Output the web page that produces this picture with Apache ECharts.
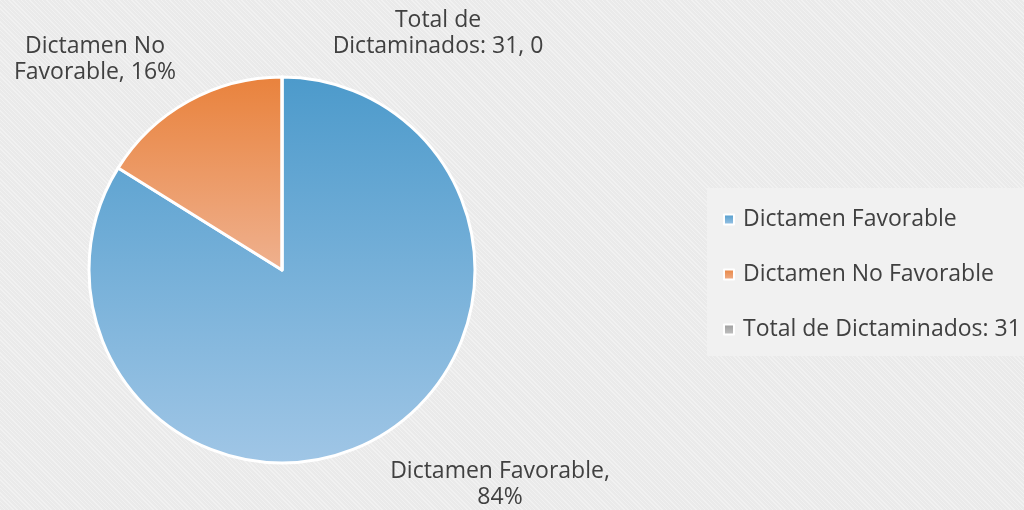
<!DOCTYPE html>
<html>
<head>
<meta charset="utf-8">
<script src="https://cdn.jsdelivr.net/npm/echarts@6/dist/echarts.min.js"></script>
<style>
  html, body { margin: 0; padding: 0; }
  body {
    background-color: #eaeaea;
    background-image: repeating-linear-gradient(45deg, rgba(255,255,255,0.35) 0 1px, rgba(0,0,0,0) 1px 3px);
  }
  #chart { width: 1024px; height: 510px; }
</style>
</head>
<body>
<div id="chart"></div>
<script>
// datos del gráfico
const categorias = ['Dictamen Favorable', 'Dictamen No Favorable', 'Total de Dictaminados: 31']
const valores = [26, 5, 0]
const porcentajes = ['84%', '16%', '0']
const colores = [
    ['#4c9acb', '#a0c6e6'],
    ['#e9823c', '#efb18f'],
    ['#9a9a9a', '#c4c4c4']
]

const fuente = 'Open Sans'
const colorTexto = '#404040'

var myChart = echarts.init(document.getElementById('chart'))

// texto de etiquetas con los saltos de línea como en el original
function textoEtiqueta(i) {
    if (i === 0) return categorias[0] + ',\n' + porcentajes[0]
    if (i === 1) return 'Dictamen No\nFavorable, ' + porcentajes[1]
    return 'Total de\nDictaminados: 31, ' + valores[2]
}

// posición de cada etiqueta (centro del bloque de texto)
const posEtiquetas = [[500, 484], [95, 59], [438, 33]]

var option = {
    backgroundColor: 'transparent',
    legend: {
        orient: 'vertical',
        left: 707,
        top: 188,
        padding: [20, 60, 15, 16],
        backgroundColor: '#f1f1f1',
        itemWidth: 10,
        itemHeight: 10,
        itemGap: 32,
        icon: 'rect',
        itemStyle: {
            borderColor: '#ffffff',
            borderWidth: 2
        },
        textStyle: {
            fontFamily: fuente,
            fontSize: 23,
            lineHeight: 22,
            color: colorTexto,
            padding: [0, 0, 0, 4]
        },
        data: categorias
    },
    series: [{
        type: 'pie',
        center: [282, 270],
        radius: [0, 193],
        startAngle: 90,
        clockwise: true,
        avoidLabelOverlap: false,
        itemStyle: {
            borderColor: '#ffffff',
            borderWidth: 3
        },
        label: {
            show: true,
            fontFamily: fuente,
            fontSize: 23,
            lineHeight: 26,
            color: colorTexto,
            align: 'center',
            formatter(item) {
                return textoEtiqueta(item.dataIndex)
            }
        },
        labelLine: { show: false },
        labelLayout(params) {
            const p = posEtiquetas[params.dataIndex]
            return {
                x: p[0],
                y: p[1],
                align: 'center',
                verticalAlign: 'middle'
            }
        },
        emphasis: { disabled: true },
        data: categorias.map((name, i) => ({
            name,
            value: valores[i],
            itemStyle: {
                color: new echarts.graphic.LinearGradient(0, 0, 0, 1, [
                    { offset: 0, color: colores[i][0] },
                    { offset: 1, color: colores[i][1] }
                ])
            }
        }))
    }]
}
myChart.setOption(option)
</script>
</body>
</html>
